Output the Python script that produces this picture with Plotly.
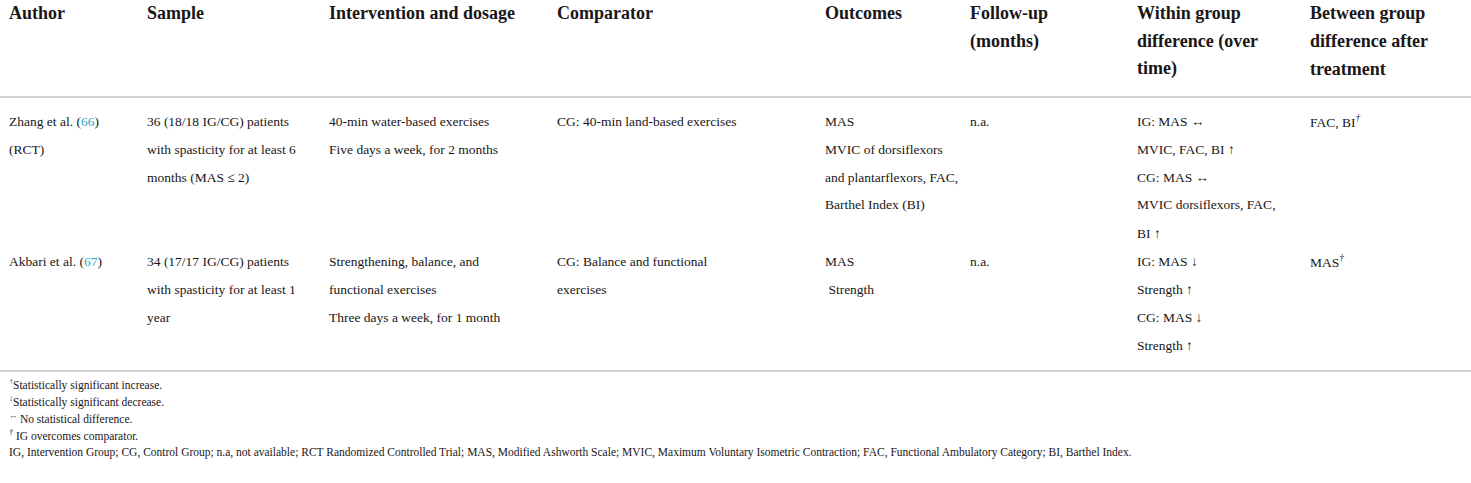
import plotly.graph_objects as go

W, H = 1471, 483
CITE = "#2ba6c8"

# column headers (each entry = lines of the header cell)
headers = [
    ["Author"],
    ["Sample"],
    ["Intervention and dosage"],
    ["Comparator"],
    ["Outcomes"],
    ["Follow-up", "(months)"],
    ["Within group", "difference (over", "time)"],
    ["Between group", "difference after", "treatment"],
]
col_x = [7, 145, 327, 555, 823, 968, 1135, 1308]

author = [
    ["Zhang et al. (<span style='color:%s'>66</span>)" % CITE, "(RCT)"],
    ["Akbari et al. (<span style='color:%s'>67</span>)" % CITE],
]
sample = [
    ["36 (18/18 IG/CG) patients", "with spasticity for at least 6", "months (MAS ≤ 2)"],
    ["34 (17/17 IG/CG) patients", "with spasticity for at least 1", "year"],
]
intervention = [
    ["40-min water-based exercises", "Five days a week, for 2 months"],
    ["Strengthening, balance, and", "functional exercises", "Three days a week, for 1 month"],
]
comparator = [
    ["CG: 40-min land-based exercises"],
    ["CG: Balance and functional", "exercises"],
]
outcomes = [
    ["MAS", "MVIC of dorsiflexors", "and plantarflexors, FAC,", "Barthel Index (BI)"],
    ["MAS", " Strength"],
]
followup = [["n.a."], ["n.a."]]
within = [
    ["IG: MAS ↔", "MVIC, FAC, BI ↑", "CG: MAS ↔", "MVIC dorsiflexors, FAC,", "BI ↑"],
    ["IG: MAS ↓", "Strength ↑", "CG: MAS ↓", "Strength ↑"],
]
between = [["FAC, BI<sup><i>†</i></sup>"], ["MAS<sup><i>†</i></sup>"]]

columns = [author, sample, intervention, comparator, outcomes, followup, within, between]

footnotes = [
    "<sup>↑</sup>Statistically significant increase.",
    "<sup>↓</sup>Statistically significant decrease.",
    "<sup>↔</sup> No statistical difference.",
    "<sup><i>†</i></sup> IG overcomes comparator.",
    "IG, Intervention Group; CG, Control Group; n.a, not available; RCT Randomized Controlled Trial; "
    "MAS, Modified Ashworth Scale; MVIC, Maximum Voluntary Isometric Contraction; "
    "FAC, Functional Ambulatory Category; BI, Barthel Index.",
]

SERIF = "Liberation Serif"
INK = "#1a1617"
head_top, body_top, step = 13, 121, 28


def px(x):
    return x / W


def py(y):
    return 1 - y / H


fig = go.Figure()
ann = []

for cx, lines in zip(col_x, headers):
    for i, t in enumerate(lines):
        ann.append(dict(x=px(cx), y=py(head_top + i * step), text="<b>%s</b>" % t,
                        font=dict(family=SERIF, size=18, color=INK)))

y0 = body_top
n_rows = len(author)
for r in range(n_rows):
    n_lines = max(len(c[r]) for c in columns)
    for cx, col in zip(col_x, columns):
        for i, t in enumerate(col[r]):
            ann.append(dict(x=px(cx), y=py(y0 + i * step), text=t,
                            font=dict(family=SERIF, size=13.5, color=INK)))
    y0 += n_lines * step

line_y = y0 - 2
for i, t in enumerate(footnotes):
    ann.append(dict(x=px(7), y=py(384 + i * 17), text=t,
                    font=dict(family=SERIF, size=11.5, color=INK)))

for a in ann:
    a.update(xref="paper", yref="paper", xanchor="left", yanchor="middle", showarrow=False)

shapes = [
    dict(type="line", xref="paper", yref="paper", x0=0, x1=1, y0=py(97), y1=py(97),
         line=dict(color="#d0d0d0", width=2)),
    dict(type="line", xref="paper", yref="paper", x0=0, x1=1, y0=py(line_y), y1=py(line_y),
         line=dict(color="#d0d0d0", width=2)),
]

fig.update_layout(width=W, height=H, margin=dict(l=0, r=0, t=0, b=0),
                  paper_bgcolor="white", plot_bgcolor="white",
                  xaxis=dict(visible=False), yaxis=dict(visible=False),
                  annotations=ann, shapes=shapes, showlegend=False)

# drop the default page margin so the figure fills the window
fig.write_html("out.html", config={"displayModeBar": False},
               post_script="document.body.style.margin='0';")
